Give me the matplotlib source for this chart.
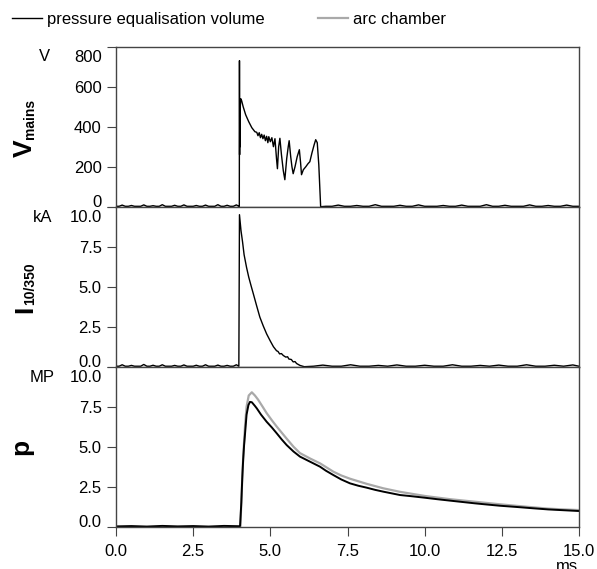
import matplotlib
matplotlib.use('Agg')
import matplotlib.pyplot as plt
import matplotlib.transforms as mtransforms
from matplotlib.lines import Line2D

plt.rcParams['font.family'] = ['Liberation Sans', 'DejaVu Sans']

# --- data (time in ms) ---
# mains voltage (V)
v_time = [0.00, 0.10, 0.20, 0.30, 0.40, 0.50, 0.60, 0.70, 0.80, 0.90, 1.00, 1.10, 1.20, 1.30,
          1.40, 1.50, 1.60, 1.70, 1.80, 1.90, 2.00, 2.10, 2.20, 2.30, 2.40, 2.50, 2.60, 2.70,
          2.80, 2.90, 3.00, 3.10, 3.20, 3.30, 3.40, 3.50, 3.60, 3.70, 3.80, 3.90, 3.98,
          3.995, 4.000, 4.005, 4.010, 4.015, 4.020, 4.040, 4.070, 4.12, 4.20, 4.30, 4.40, 4.50,
          4.56, 4.60, 4.64, 4.68, 4.72, 4.76, 4.80, 4.84, 4.88, 4.92, 4.95, 5.00, 5.05, 5.10,
          5.15, 5.20, 5.23, 5.27, 5.31, 5.36, 5.42, 5.47, 5.53, 5.58, 5.61, 5.66, 5.70, 5.74,
          5.80, 5.87, 5.94, 5.98, 6.01, 6.07, 6.15, 6.22, 6.28, 6.35, 6.42, 6.47, 6.52, 6.57,
          6.63,
          6.80, 7.00, 7.20, 7.40, 7.60, 7.80, 8.00, 8.20, 8.40, 8.60, 8.80, 9.00, 9.20, 9.40,
          9.60, 9.80, 10.00, 10.20, 10.40, 10.60, 10.80, 11.00, 11.20, 11.40, 11.60, 11.80,
          12.00, 12.20, 12.40, 12.60, 12.80, 13.00, 13.20, 13.40, 13.60, 13.80, 14.00, 14.20,
          14.40, 14.60, 14.80, 15.00]
v_mains = [2, 2, 8, 2, 2, 6, 2, 2, 2, 9, 2, 2, 5, 2,
           2, 10, 2, 2, 2, 7, 2, 2, 9, 2, 2, 2, 6, 2,
           2, 8, 2, 2, 2, 10, 2, 2, 7, 2, 2, 9, 2,
           0, 730, 260, 520, 300, 480, 540, 530, 500, 460, 425, 395, 375,
           372, 355, 370, 345, 362, 340, 358, 330, 352, 320, 350, 325, 345, 300,
           340, 240, 190, 300, 342, 260, 180, 135, 240, 300, 330, 250, 200, 165,
           200, 250, 285, 220, 160, 185, 200, 215, 225, 270, 310, 335, 320, 210,
           0,
           2, 2, 8, 2, 2, 6, 2, 2, 10, 2, 2, 2, 7, 2,
           2, 9, 2, 2, 2, 6, 2, 2, 8, 2, 2, 2,
           10, 2, 2, 7, 2, 2, 2, 9, 2, 2, 6, 2,
           2, 8, 2, 2]

# impulse current (kA)
i_time = [0.00, 0.10, 0.20, 0.30, 0.40, 0.50, 0.60, 0.70, 0.80, 0.90, 1.00, 1.10, 1.20, 1.30,
          1.40, 1.50, 1.60, 1.70, 1.80, 1.90, 2.00, 2.10, 2.20, 2.30, 2.40, 2.50, 2.60, 2.70,
          2.80, 2.90, 3.00, 3.10, 3.20, 3.30, 3.40, 3.50, 3.60, 3.70, 3.80, 3.90, 3.98,
          4.00, 4.05, 4.10, 4.15, 4.23, 4.30, 4.37, 4.45, 4.55, 4.66, 4.77, 4.88, 5.00, 5.10,
          5.20, 5.25, 5.30, 5.36, 5.42, 5.50, 5.56, 5.60, 5.68, 5.74, 5.80, 5.85, 5.96, 6.10,
          6.40, 6.70, 7.00, 7.30, 7.60, 7.90, 8.20, 8.50, 8.80, 9.10, 9.40, 9.70, 10.00, 10.30,
          10.60, 10.90, 11.20, 11.50, 11.80, 12.10, 12.40, 12.70, 13.00, 13.30, 13.60, 13.90,
          14.20, 14.50, 14.80, 15.00]
i_current = [0.03, 0.03, 0.12, 0.03, 0.03, 0.08, 0.03, 0.03, 0.03, 0.14, 0.03, 0.03, 0.09, 0.03,
             0.03, 0.12, 0.03, 0.03, 0.03, 0.08, 0.03, 0.03, 0.11, 0.03, 0.03, 0.03, 0.09, 0.03,
             0.03, 0.12, 0.03, 0.03, 0.03, 0.10, 0.03, 0.03, 0.08, 0.03, 0.03, 0.12, 0.03,
             9.5, 8.5, 7.8, 7.0, 6.2, 5.6, 5.1, 4.55, 3.85, 3.1, 2.55, 2.05, 1.6, 1.25,
             1.0, 0.95, 0.8, 0.82, 0.7, 0.6, 0.62, 0.48, 0.45, 0.3, 0.32, 0.2, 0.08, 0.0,
             0.03, 0.10, 0.03, 0.03, 0.12, 0.03, 0.03, 0.08, 0.03, 0.11, 0.03, 0.03, 0.09, 0.03,
             0.03, 0.12, 0.03, 0.03, 0.08, 0.03, 0.10, 0.03, 0.03, 0.12, 0.03, 0.03,
             0.09, 0.03, 0.11, 0.03]

# pressure (MPa) - pressure equalisation volume
p_time = [0.00, 0.50, 1.00, 1.50, 2.00, 2.50, 3.00, 3.50, 4.00, 4.02, 4.06, 4.09, 4.12, 4.15,
          4.18, 4.23, 4.29, 4.34, 4.40, 4.50, 4.56, 4.70, 4.88, 5.05, 5.21, 5.37, 5.53, 5.75,
          5.96, 6.30, 6.61, 6.80, 7.04, 7.30, 7.58, 7.85, 8.12, 8.40, 8.66, 9.20, 9.60, 10.01,
          10.40, 10.82, 11.20, 11.63, 12.00, 12.44, 13.00, 13.52, 14.00, 14.50, 15.00]
p_equal = [0.02, 0.04, 0.01, 0.05, 0.02, 0.04, 0.01, 0.05, 0.03, 0.05, 1.5, 3.0, 4.2, 5.1,
           5.8, 7.0, 7.6, 7.8, 7.78, 7.55, 7.4, 7.0, 6.56, 6.2, 5.83, 5.45, 5.1, 4.7,
           4.38, 4.05, 3.75, 3.5, 3.23, 2.95, 2.71, 2.56, 2.44, 2.3, 2.19, 1.98, 1.9, 1.81,
           1.72, 1.63, 1.55, 1.46, 1.39, 1.31, 1.23, 1.15, 1.08, 1.03, 0.98]

# pressure (MPa) - arc chamber
a_time = [0.00, 1.00, 2.00, 3.00, 4.00, 4.03, 4.07, 4.10, 4.14, 4.18, 4.23, 4.30, 4.40, 4.50,
          4.60, 4.75, 4.88, 5.05, 5.21, 5.53, 5.75, 5.96, 6.30, 6.61, 7.04, 7.30, 7.58, 8.12,
          8.66, 9.20, 10.01, 10.82, 11.63, 12.44, 13.00, 13.52, 14.00, 14.50, 15.00]
p_arc = [-0.05, -0.05, -0.05, -0.05, -0.05, 0.0, 2.0, 3.5, 5.0, 6.3, 7.5, 8.2, 8.4, 8.2,
         7.95, 7.5, 7.1, 6.65, 6.25, 5.5, 5.0, 4.6, 4.25, 3.96, 3.44, 3.2, 3.0, 2.68,
         2.4, 2.18, 1.92, 1.72, 1.56, 1.40, 1.3, 1.21, 1.13, 1.08, 1.04]

x_ticks = [0.0, 2.5, 5.0, 7.5, 10.0, 12.5, 15.0]
v_ticks = [0, 200, 400, 600, 800]
ka_ticks = [0.0, 2.5, 5.0, 7.5, 10.0]

W, H = 597, 569
fig = plt.figure(figsize=(W / 100, H / 100), dpi=100)

left, width = 116 / W, 463 / W
ph = 160 / H
ax1 = fig.add_axes([left, (H - 206.7) / H, width, ph])
ax2 = fig.add_axes([left, (H - 366.7) / H, width, ph], sharex=ax1)
ax3 = fig.add_axes([left, (H - 526.7) / H, width, ph], sharex=ax1)

grey = '#a9a9a9'
ax1.plot(v_time, v_mains, color='black', lw=1.0)
ax2.plot(i_time, i_current, color='black', lw=1.0)
ax3.plot(a_time, p_arc, color=grey, lw=1.6)
ax3.plot(p_time, p_equal, color='black', lw=1.4)

ax1.set_ylim(0, 800)
ax1.set_yticks(v_ticks)
ax1.set_yticklabels(['0', '200', '400', '600', '800'])
for ax in (ax2, ax3):
    ax.set_ylim(0, 10)
    ax.set_yticks(ka_ticks)
    ax.set_yticklabels(['%.1f' % t for t in ka_ticks])
ax3.set_xlim(0, 15)
ax3.set_xticks(x_ticks)
ax3.set_xticklabels(['%.1f' % t for t in x_ticks])

down = mtransforms.ScaledTranslation(0, -2.5 / 72, fig.dpi_scale_trans)
for ax in (ax1, ax2, ax3):
    for s in ax.spines.values():
        s.set_color('#444444')
        s.set_linewidth(1.0)
    ax.tick_params(axis='y', direction='out', length=6.7, width=0.8, pad=3.6,
                   labelsize=12, color='#444444')
    labs = ax.get_yticklabels()
    labs[0].set_va('baseline')
    labs[-1].set_va('top')
    labs[-1].set_transform(labs[-1].get_transform() + down)
for ax in (ax1, ax2):
    ax.tick_params(axis='x', bottom=False, labelbottom=False)
ax3.tick_params(axis='x', direction='out', length=6.5, width=0.8, pad=6,
                labelsize=12, color='#444444')

# unit labels
fig.text(44 / W, 1 - 56.7 / H, 'V', ha='center', va='center', fontsize=12)
fig.text(43 / W, 1 - 218 / H, 'kA', ha='center', va='center', fontsize=12)
fig.text(42 / W, 1 - 378 / H, 'MP', ha='center', va='center', fontsize=12)
fig.text(567 / W, 1 - 559 / H, 'ms', ha='center', va='top', fontsize=12)

# quantity labels (bold, rotated, with small subscript)
big = dict(rotation=90, rotation_mode='anchor', ha='left', va='baseline',
           fontsize=19, fontweight='bold')
sub = dict(rotation=90, rotation_mode='anchor', ha='left', va='baseline',
           fontsize=10, fontweight='bold')
fig.text(32 / W, 1 - 157 / H, 'V', **big)
fig.text(34 / W, 1 - 139 / H, 'mains', **sub)
fig.text(32 / W, 1 - 313 / H, 'I', **big)
fig.text(34 / W, 1 - 305 / H, '10/350', **sub)
fig.text(21 / W, 1 - 447 / H, 'p', rotation=90, ha='center', va='center',
         fontsize=19, fontweight='bold')

# legend at top
handles = [Line2D([], [], color='black', lw=1.0), Line2D([], [], color=grey, lw=1.6)]
fig.legend(handles, ['pressure equalisation volume', 'arc chamber'],
           loc='center left', bbox_to_anchor=(12 / W, 1 - 19.3 / H), ncol=2,
           frameon=False, fontsize=12, borderpad=0, borderaxespad=0,
           handlelength=1.8, handletextpad=0.3, columnspacing=3.2)

fig.savefig('out.png', dpi=100)
